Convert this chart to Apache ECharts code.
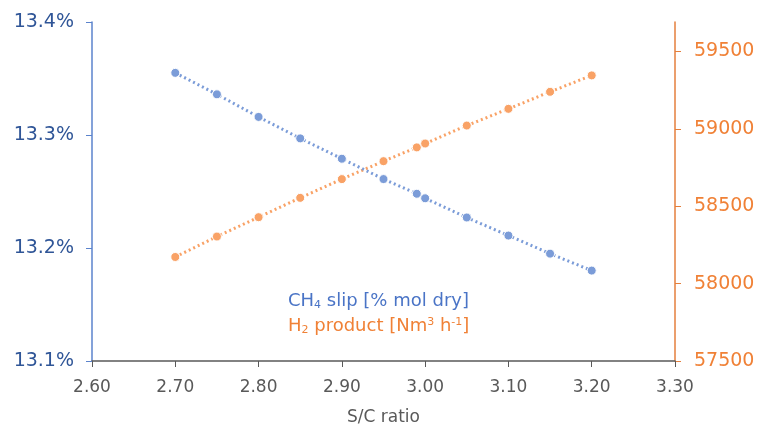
<!DOCTYPE html>
<html>
<head>
<meta charset="utf-8">
<title>S/C ratio</title>
<script src="https://cdn.jsdelivr.net/npm/echarts@6/dist/echarts.min.js"></script>
<style>
    html, body { margin: 0; padding: 0; background: #fff; }
    #chart { width: 763px; height: 429px; }
</style>
</head>
<body>
<div id="chart"></div>
<script>
(function () {
    'use strict';

    // S/C ratio values (x)
    var scRatio = [2.70, 2.75, 2.80, 2.85, 2.90, 2.95, 2.99, 3.00, 3.05, 3.10, 3.15, 3.20];
    // CH4 slip [% mol dry], left axis
    var ch4Slip = [13.355, 13.336, 13.316, 13.297, 13.279, 13.261, 13.248, 13.244, 13.227, 13.211, 13.195, 13.180];
    // H2 product [Nm3 h-1], right axis
    var h2Product = [58172, 58304, 58429, 58554, 58675, 58791, 58880, 58905, 59021, 59129, 59239, 59345];

    var xTicks = [2.6, 2.7, 2.8, 2.9, 3.0, 3.1, 3.2, 3.3];
    var leftTicks = [13.1, 13.2, 13.3, 13.4];
    var rightTicks = [57500, 58000, 58500, 59000, 59500];

    var blue = '#7b9cd8', blueText = '#2f5597', blueAxis = '#5b83cc', blueLegend = '#4a74c6';
    var orange = '#f9a266', orangeText = '#f08136', orangeAxis = '#e57f3c';
    var grey = '#595959';
    var font = '"DejaVu Sans", Verdana, sans-serif';

    function pairs(xs, ys) {
        var out = [];
        for (var i = 0; i < xs.length; i++) out.push([xs[i], ys[i]]);
        return out;
    }

    var myChart = echarts.init(document.getElementById('chart'), null, {renderer: 'canvas'});

    var option = {
        animation: false,
        backgroundColor: '#fff',
        textStyle: {fontFamily: font},
        grid: {left: 92, right: 88, top: 22, bottom: 68, containLabel: false, outerBoundsMode: 'none'},
        legend: {
            orient: 'vertical',
            left: 278,
            top: 287,
            itemWidth: 0,
            itemHeight: 0,
            itemGap: 6,
            icon: 'none',
            selectedMode: false,
            data: [
                {name: 'CH4'},
                {name: 'H2'}
            ],
            formatter: function (name) {
                if (name === 'CH4') return '{b|CH}{bs|4}{b| slip [% mol dry]}';
                return '{o|H}{os|2}{o| product [Nm}{osp|3}{o| h}{osp|-1}{o|]}';
            },
            textStyle: {
                fontFamily: font,
                fontSize: 18,
                rich: {
                    b: {color: blueLegend, fontSize: 18, fontFamily: font},
                    bs: {color: blueLegend, fontSize: 11, fontFamily: font, verticalAlign: 'bottom', padding: [8, 0, 0, 0]},
                    o: {color: orangeText, fontSize: 18, fontFamily: font},
                    os: {color: orangeText, fontSize: 11, fontFamily: font, verticalAlign: 'bottom', padding: [8, 0, 0, 0]},
                    osp: {color: orangeText, fontSize: 11, fontFamily: font, verticalAlign: 'top', padding: [0, 0, 8, 0]}
                }
            }
        },
        xAxis: {
            type: 'value',
            min: 2.6,
            max: 3.3,
            interval: 0.1,
            name: 'S/C ratio',
            nameLocation: 'middle',
            nameGap: 48,
            nameTextStyle: {color: grey, fontSize: 17, fontFamily: font},
            splitLine: {show: false},
            axisLine: {lineStyle: {color: grey, width: 1.5}},
            axisTick: {show: true, length: 6, lineStyle: {color: grey}, customValues: xTicks},
            axisLabel: {
                color: grey, fontSize: 17, margin: 18, fontFamily: font,
                customValues: xTicks,
                formatter: function (v) { return v.toFixed(2); }
            }
        },
        yAxis: [
            {
                type: 'value',
                position: 'left',
                min: 13.1,
                max: 13.4,
                interval: 0.1,
                splitLine: {show: false},
                axisLine: {show: true, lineStyle: {color: blueAxis, width: 1.5}},
                axisTick: {show: true, length: 6, lineStyle: {color: blueAxis}, customValues: leftTicks},
                axisLabel: {
                    color: blueText, fontSize: 19, margin: 18, fontFamily: font,
                    customValues: leftTicks,
                    formatter: function (v) { return v.toFixed(1) + '%'; }
                }
            },
            {
                type: 'value',
                position: 'right',
                min: 57500,
                max: 59690,
                interval: 500,
                splitLine: {show: false},
                axisLine: {show: true, lineStyle: {color: orangeAxis, width: 1.5}},
                axisTick: {show: true, length: 6, lineStyle: {color: orangeAxis}, customValues: rightTicks},
                axisLabel: {
                    color: orangeText, fontSize: 19, margin: 19, fontFamily: font,
                    customValues: rightTicks,
                    formatter: function (v) { return String(Math.round(v)); }
                }
            }
        ],
        series: [
            {
                name: 'CH4',
                type: 'line',
                yAxisIndex: 0,
                data: pairs(scRatio, ch4Slip),
                symbol: 'circle',
                symbolSize: 9,
                itemStyle: {color: blue, borderColor: '#fff', borderWidth: 1},
                lineStyle: {color: blue, width: 3, type: [2, 3]},
                z: 3
            },
            {
                name: 'H2',
                type: 'line',
                yAxisIndex: 1,
                data: pairs(scRatio, h2Product),
                symbol: 'circle',
                symbolSize: 9,
                itemStyle: {color: orange, borderColor: '#fff', borderWidth: 1},
                lineStyle: {color: orange, width: 3, type: [2, 3]},
                z: 2
            }
        ]
    };

    myChart.setOption(option);
})();
</script>
</body>
</html>
